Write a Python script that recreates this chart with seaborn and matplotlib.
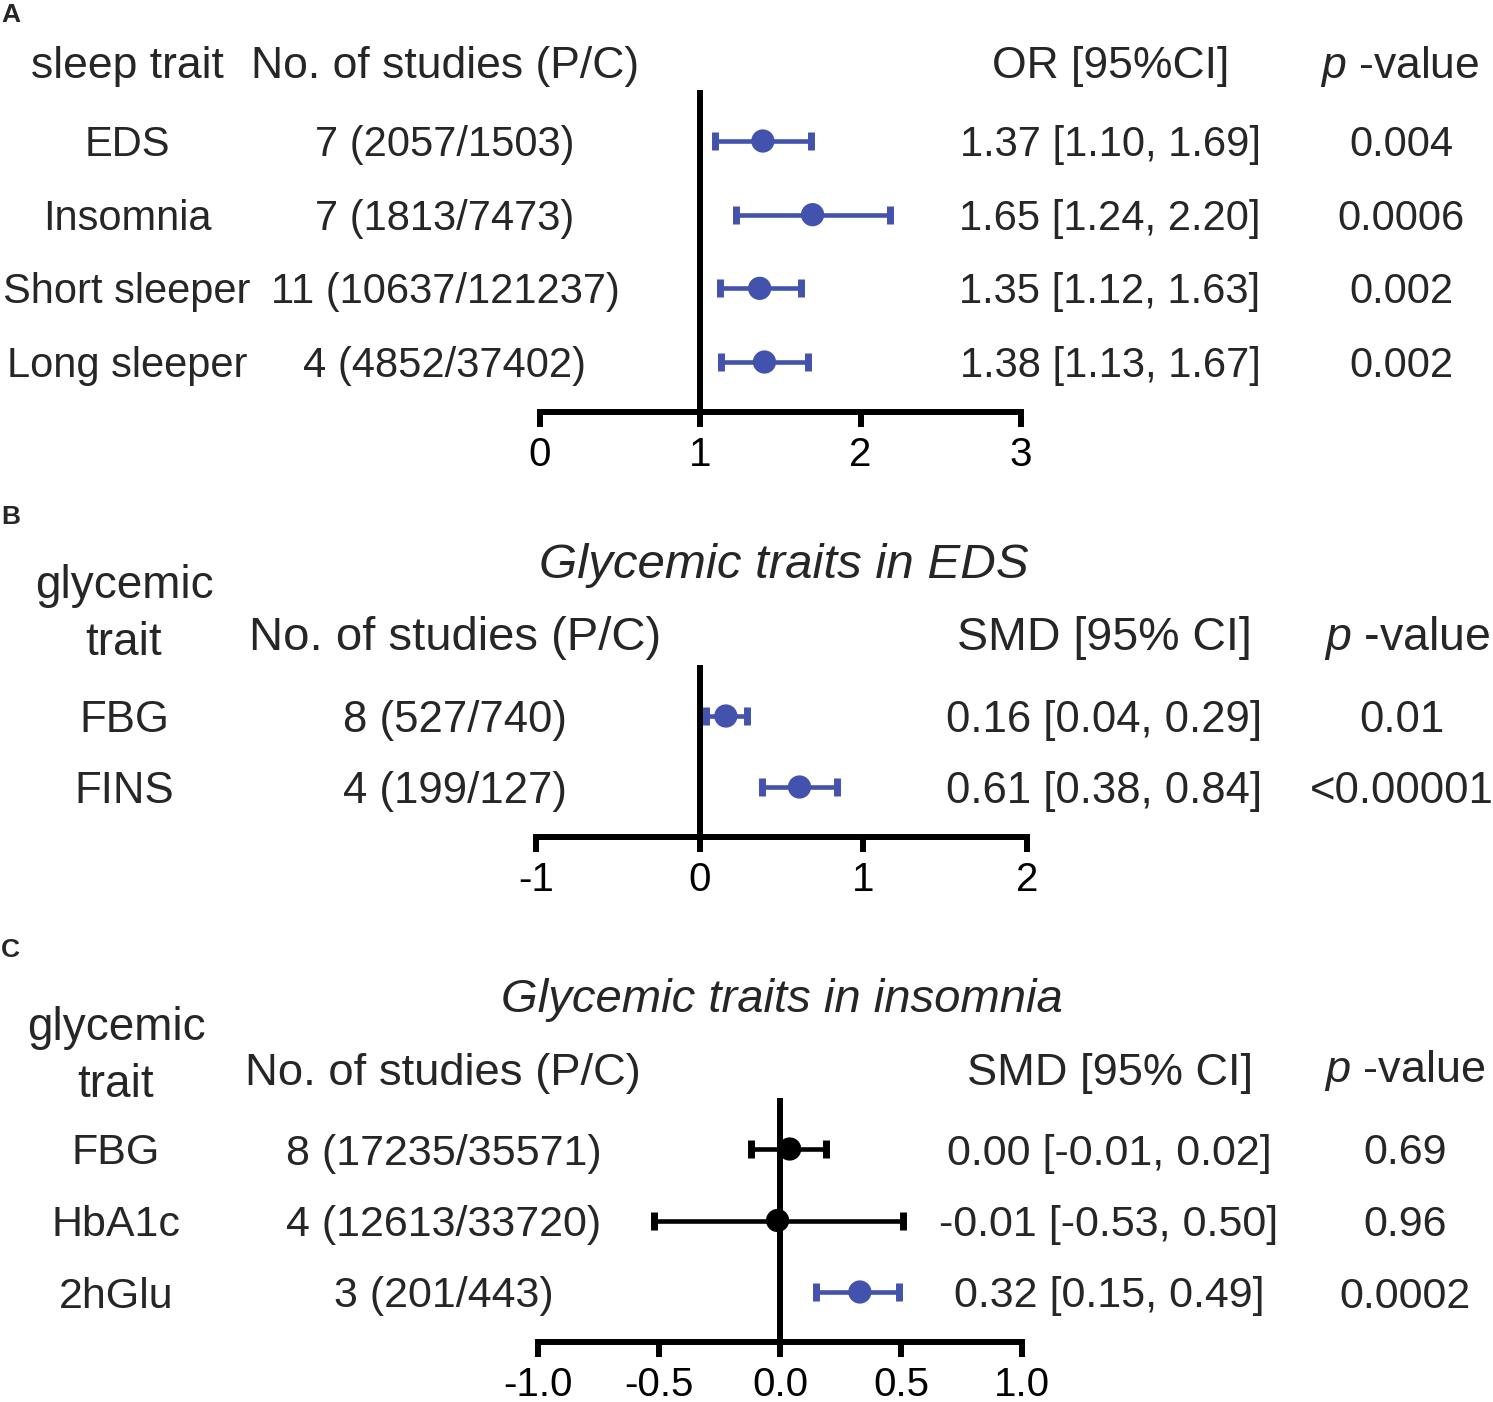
import numpy as np
import pandas as pd
import seaborn as sns
import matplotlib
matplotlib.use("Agg")
import matplotlib.pyplot as plt
from matplotlib import transforms

# panel A data
a_traits = ["EDS", "Insomnia", "Short sleeper", "Long sleeper"]
a_studies = ["7 (2057/1503)", "7 (1813/7473)", "11 (10637/121237)", "4 (4852/37402)"]
a_ci_text = ["1.37 [1.10, 1.69]", "1.65 [1.24, 2.20]", "1.35 [1.12, 1.63]", "1.38 [1.13, 1.67]"]
a_pvals = ["0.004", "0.0006", "0.002", "0.002"]
a_est = [1.39, 1.70, 1.37, 1.40]
a_lo = [1.09, 1.22, 1.12, 1.13]
a_hi = [1.69, 2.18, 1.63, 1.67]
a_sig = [True, True, True, True]

# panel B data
b_traits = ["FBG", "FINS"]
b_studies = ["8 (527/740)", "4 (199/127)"]
b_ci_text = ["0.16 [0.04, 0.29]", "0.61 [0.38, 0.84]"]
b_pvals = ["0.01", "<0.00001"]
b_est = [0.16, 0.61]
b_lo = [0.04, 0.38]
b_hi = [0.29, 0.84]
b_sig = [True, True]

# panel C data
c_traits = ["FBG", "HbA1c", "2hGlu"]
c_studies = ["8 (17235/35571)", "4 (12613/33720)", "3 (201/443)"]
c_ci_text = ["0.00 [-0.01, 0.02]", "-0.01 [-0.53, 0.50]", "0.32 [0.15, 0.49]"]
c_pvals = ["0.69", "0.96", "0.0002"]
c_est = [0.04, -0.01, 0.33]
c_lo = [-0.12, -0.52, 0.15]
c_hi = [0.19, 0.51, 0.49]
c_sig = [False, False, True]

a_ticks = [0, 1, 2, 3]
a_ticklabels = ["0", "1", "2", "3"]
b_ticks = [-1, 0, 1, 2]
b_ticklabels = ["-1", "0", "1", "2"]
c_ticks = [-1.0, -0.5, 0.0, 0.5, 1.0]
c_ticklabels = ["-1.0", "-0.5", "0.0", "0.5", "1.0"]

sns.set_style("white")
plt.rcParams["font.family"] = ["Liberation Sans", "DejaVu Sans"]
plt.rcParams["mathtext.fontset"] = "custom"
plt.rcParams["mathtext.rm"] = "Liberation Sans"
plt.rcParams["mathtext.it"] = "Liberation Sans:italic"

BLUE = "#4352AC"
W, H = 1493, 1402
fig = plt.figure(figsize=(W / 100, H / 100), dpi=100)

PVAL = r"$\mathit{p}$ -value"


def ftext(x, y, s, size=32, **kw):
    # x, y in pixels from top-left, y is the baseline
    fig.text(x / W, 1 - y / H, s, fontsize=size, ha="center", va="baseline", **kw)


def letter(y, s):
    fig.text(1 / W, 1 - y / H, s, fontsize=19, weight="bold", ha="left", va="baseline")


def panel(left, right, top, bottom, row0, step, xlim, ref, ticks, ticklabels,
          traits, studies, ci_text, pvals, est, lo, hi, sig, cols, fs):
    ax = fig.add_axes([left / W, 1 - bottom / H, (right - left) / W, (bottom - top) / H])
    rows = np.arange(len(traits))
    df = pd.DataFrame({"trait": traits, "row": rows, "est": est, "lo": lo, "hi": hi,
                       "grp": ["sig" if s else "ns" for s in sig]})
    ax.axvline(ref, color="black", lw=4.3, zorder=1)
    for _, r in df.iterrows():
        c = BLUE if r.grp == "sig" else "black"
        ax.errorbar(r.est, r.row, xerr=[[r.est - r.lo], [r.hi - r.est]], fmt="none",
                    ecolor=c, elinewidth=3.3, capsize=6.8, capthick=5, zorder=3)
    sns.scatterplot(data=df, x="est", y="row", hue="grp",
                    palette={"sig": BLUE, "ns": "black"}, s=280, edgecolor="none",
                    legend=False, ax=ax, zorder=4)
    ax.set_xlim(*xlim)
    ax.set_ylim((bottom - row0) / step, (top - row0) / step)
    sns.despine(ax=ax, left=True)
    ax.spines["bottom"].set_linewidth(4.3)
    ax.spines["bottom"].set_color("black")
    ax.set_xticks(ticks)
    ax.set_xticklabels(ticklabels)
    ax.set_yticks([])
    ax.set_xlabel("")
    ax.set_ylabel("")
    ax.tick_params(axis="x", direction="out", length=11, width=4.3, labelsize=29,
                   pad=6, bottom=True, colors="black")
    ax.patch.set_alpha(0)
    # row text follows the data rows
    tr = transforms.blended_transform_factory(fig.transFigure, ax.transData)
    tr = transforms.offset_copy(tr, fig=fig, y=-0.5 * fs, units="dots")
    for i in rows:
        for col, vals in zip(cols, [traits, studies, ci_text, pvals]):
            ax.text(col / W, i, vals[i], transform=tr, fontsize=fs,
                    ha="center", va="baseline", clip_on=False)
    return ax


# Panel A
letter(22, "A")
ftext(127, 78, "sleep trait")
ftext(445, 78, "No. of studies (P/C)")
ftext(1111, 78, "OR [95%CI]")
ftext(1400, 78, PVAL)
panel(540, 1021, 90, 412, 141, 73.67, (0, 3), 1, a_ticks, a_ticklabels,
      a_traits, a_studies, a_ci_text, a_pvals, a_est, a_lo, a_hi, a_sig,
      [127, 445, 1110, 1401], 30)

# Panel B
letter(524, "B")
ftext(784, 578, "Glycemic traits in EDS", size=35.5, style="italic")
ftext(124, 598, "glycemic", size=33)
ftext(124, 655, "trait", size=33)
ftext(455, 650, "No. of studies (P/C)", size=34)
ftext(1104, 650, "SMD [95% CI]", size=33.5)
ftext(1407, 650, PVAL, size=33.5)
panel(536, 1027, 665, 837, 716, 71, (-1, 2), 0, b_ticks, b_ticklabels,
      b_traits, b_studies, b_ci_text, b_pvals, b_est, b_lo, b_hi, b_sig,
      [124, 455, 1104, 1402], 31.5)

# Panel C
letter(957, "C")
ftext(782, 1012, "Glycemic traits in insomnia", size=34, style="italic")
ftext(116, 1040, "glycemic", size=33)
ftext(116, 1097, "trait", size=33)
ftext(443, 1085, "No. of studies (P/C)", size=32.7)
ftext(1110, 1085, "SMD [95% CI]", size=32.5)
ftext(1405, 1082, PVAL, size=32.5)
panel(538, 1022, 1098, 1342, 1149, 71.5, (-1, 1), 0, c_ticks, c_ticklabels,
      c_traits, c_studies, c_ci_text, c_pvals, c_est, c_lo, c_hi, c_sig,
      [116, 444, 1109, 1405], 31)

fig.savefig("out.png", dpi=100)
